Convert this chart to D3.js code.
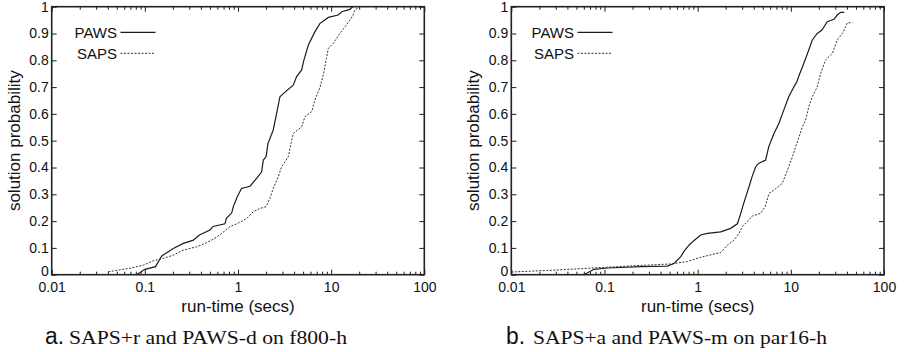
<!DOCTYPE html>
<html>
<head>
<meta charset="utf-8">
<script src="https://cdn.jsdelivr.net/npm/d3@7"></script>
<style>
  html, body { margin: 0; padding: 0; background: #fff; }
  svg { display: block; }
  .tick text { font-family: "Liberation Sans", Arial, sans-serif; font-size: 14px; fill: #111; }
</style>
</head>
<body>
<svg id="chart" width="904" height="352"></svg>
<script>
// Axis tick values and labels
const xTicks = [0.01, 0.1, 1, 10, 100];
const xTickLabels = ["0.01", "0.1", "1", "10", "100"];
const yTicks = [0, 0.1, 0.2, 0.3, 0.4, 0.5, 0.6, 0.7, 0.8, 0.9, 1];
const yTickLabels = ["0", "0.1", "0.2", "0.3", "0.4", "0.5", "0.6", "0.7", "0.8", "0.9", "1"];
const seriesNames = ["PAWS", "SAPS"];

// Panel a: run-time distributions on f800-h  [seconds, solution probability]
const pawsA = [
  [0.0817, 0], [0.1, 0.02], [0.13, 0.03], [0.152, 0.07], [0.202, 0.098], [0.259, 0.117],
  [0.332, 0.129], [0.385, 0.148], [0.5, 0.167], [0.54, 0.18], [0.724, 0.19], [0.75, 0.21],
  [0.855, 0.23], [0.89, 0.254], [0.98, 0.29], [1.09, 0.322], [1.346, 0.33], [1.59, 0.36],
  [1.795, 0.384], [1.87, 0.428], [2.0, 0.44], [2.1, 0.49], [2.39, 0.54], [2.58, 0.596],
  [2.82, 0.664], [3.0, 0.673], [3.93, 0.708], [4.26, 0.739], [4.82, 0.764], [5.1, 0.801],
  [5.69, 0.857], [6.7, 0.907], [7.6, 0.938], [9.33, 0.96], [11.9, 0.969], [13, 0.981],
  [15.9, 0.99], [17, 1.0]
];
const sapsA = [
  [0.0405, 0.011], [0.069, 0.024], [0.097, 0.036], [0.123, 0.052], [0.158, 0.061],
  [0.202, 0.073], [0.259, 0.092], [0.36, 0.104], [0.443, 0.117], [0.54, 0.132],
  [0.668, 0.154], [0.82, 0.179], [0.97, 0.19], [1.24, 0.21], [1.46, 0.235], [1.72, 0.247],
  [2.0, 0.254], [2.2, 0.285], [2.39, 0.322], [2.71, 0.366], [2.94, 0.403], [3.47, 0.44],
  [3.77, 0.502], [3.93, 0.527], [4.82, 0.552], [5.24, 0.59], [6.18, 0.608], [6.7, 0.652],
  [7.6, 0.70], [8.3, 0.751], [8.9, 0.807], [9.33, 0.845], [10.5, 0.863], [12.4, 0.90],
  [14.1, 0.925], [15.9, 0.95], [17.2, 0.969], [18, 0.988], [20.4, 1.0]
];

// Panel b: run-time distributions on par16-h
const pawsB = [
  [0.0603, 0], [0.077, 0.02], [0.107, 0.025], [0.244, 0.03], [0.472, 0.032], [0.557, 0.042],
  [0.658, 0.067], [0.71, 0.086], [0.807, 0.11], [0.91, 0.127], [1.077, 0.148], [1.27, 0.154],
  [1.77, 0.16], [2.26, 0.173], [2.67, 0.19], [2.9, 0.229], [3.12, 0.266], [3.56, 0.328],
  [3.84, 0.366], [4.2, 0.403], [4.5, 0.415], [5.37, 0.428], [5.8, 0.478], [6.6, 0.527],
  [7.46, 0.565], [8.4, 0.614], [9.5, 0.664], [10.8, 0.701], [11.6, 0.72], [12.3, 0.745],
  [13.8, 0.789], [14.9, 0.82], [17.0, 0.876], [19.2, 0.90], [21.6, 0.913], [24.6, 0.944],
  [29.0, 0.953], [31.5, 0.969], [34.3, 0.979], [37.5, 0.979]
];
const sapsB = [
  [0.01, 0.01], [0.0287, 0.017], [0.084, 0.026], [0.225, 0.034], [0.51, 0.04], [0.775, 0.049],
  [1.077, 0.065], [1.5, 0.077], [1.77, 0.083], [2.08, 0.11], [2.45, 0.129], [2.78, 0.154],
  [3.0, 0.179], [3.4, 0.198], [3.86, 0.219], [4.74, 0.229], [5.3, 0.254], [5.83, 0.303],
  [6.6, 0.316], [8.1, 0.341], [9.2, 0.39], [10.4, 0.44], [11.6, 0.49], [13.3, 0.552],
  [14.4, 0.577], [15.6, 0.627], [17.0, 0.664], [19.2, 0.701], [20.9, 0.751], [23.6, 0.801],
  [27.9, 0.826], [31.5, 0.876], [35.7, 0.90], [38.8, 0.925], [40.3, 0.94], [45.7, 0.94]
];

const svg = d3.select("#chart");
const sans = '"Liberation Sans", Arial, Helvetica, sans-serif';
const serif = '"Liberation Serif", "Times New Roman", serif';
const ink = "#1c1c1c";

const panels = [
  { left: 51.7, right: 424.3, series: [pawsA, sapsA], tag: "a.",
    caption: "SAPS+r and PAWS-d on f800-h", tagX: 45, capX: 69, capW: 278,
    yTitleX: 20, legendX: 117 },
  { left: 511.3, right: 884, series: [pawsB, sapsB], tag: "b.",
    caption: "SAPS+a and PAWS-m on par16-h", tagX: 506, capX: 533, capW: 294,
    yTitleX: 479, legendX: 574 }
];
const plotTop = 6.7, plotBottom = 274.7;

// minor tick positions on the log axis (2..9 of each decade)
function minorTicks() {
  const out = [];
  for (let e = -2; e < 2; e++) for (let k = 2; k <= 9; k++) out.push(k * Math.pow(10, e));
  return out;
}

panels.forEach(p => {
  const x = d3.scaleLog().domain([0.01, 100]).range([p.left, p.right]);
  const y = d3.scaleLinear().domain([0, 1]).range([plotBottom, plotTop]);
  const g = svg.append("g");

  // minor ticks, bottom and top
  const minors = minorTicks();
  g.append("g").attr("transform", `translate(0,${plotBottom})`)
    .call(d3.axisBottom(x).tickValues(minors).tickSize(-3).tickFormat(""))
    .call(a => a.select(".domain").remove())
    .selectAll("line").attr("stroke", ink);
  g.append("g").attr("transform", `translate(0,${plotTop})`)
    .call(d3.axisTop(x).tickValues(minors).tickSize(-3).tickFormat(""))
    .call(a => a.select(".domain").remove())
    .selectAll("line").attr("stroke", ink);

  // major x ticks with labels
  g.append("g").attr("transform", `translate(0,${plotBottom})`)
    .call(d3.axisBottom(x).tickValues(xTicks).tickSize(-5).tickPadding(7)
      .tickFormat((d, i) => xTickLabels[i]))
    .call(a => a.select(".domain").remove())
    .call(a => a.selectAll("line").attr("stroke", ink));
  g.append("g").attr("transform", `translate(0,${plotTop})`)
    .call(d3.axisTop(x).tickValues(xTicks).tickSize(-5).tickFormat(""))
    .call(a => a.select(".domain").remove())
    .selectAll("line").attr("stroke", ink);

  // y ticks, left with labels and mirrored on the right
  g.append("g").attr("transform", `translate(${p.left},0)`)
    .call(d3.axisLeft(y).tickValues(yTicks).tickSize(-5).tickPadding(3)
      .tickFormat((d, i) => yTickLabels[i]))
    .call(a => a.select(".domain").remove())
    .call(a => a.selectAll("line").attr("stroke", ink))
    // lift the bottom label so it clears the x labels
    .call(a => a.selectAll(".tick text").filter(d => d === 0).attr("dy", "0.06em"));
  g.append("g").attr("transform", `translate(${p.right},0)`)
    .call(d3.axisRight(y).tickValues(yTicks).tickSize(-5).tickFormat(""))
    .call(a => a.select(".domain").remove())
    .selectAll("line").attr("stroke", ink);

  // plot frame
  g.append("rect")
    .attr("x", p.left).attr("y", plotTop)
    .attr("width", p.right - p.left).attr("height", plotBottom - plotTop)
    .attr("fill", "none").attr("stroke", "#222").attr("stroke-width", 1.6);

  // curves
  const line = d3.line().x(d => x(d[0])).y(d => y(d[1]));
  g.append("path").datum(p.series[0])
    .attr("d", line).attr("fill", "none")
    .attr("stroke", ink).attr("stroke-width", 1.2);
  g.append("path").datum(p.series[1])
    .attr("d", line).attr("fill", "none")
    .attr("stroke", "#333").attr("stroke-width", 1)
    .attr("stroke-dasharray", "2,1.5");

  // legend
  const ly = [32.3, 53.3];
  seriesNames.forEach((name, i) => {
    g.append("text").attr("x", p.legendX).attr("y", ly[i]).attr("dy", "0.36em")
      .attr("text-anchor", "end").attr("font-family", sans).attr("font-size", 15)
      .attr("fill", "#111").text(name);
    g.append("line").attr("x1", p.legendX + 3.5).attr("x2", p.legendX + 38.5)
      .attr("y1", ly[i]).attr("y2", ly[i])
      .attr("stroke", i === 0 ? ink : "#333").attr("stroke-width", i === 0 ? 1.2 : 1)
      .attr("stroke-dasharray", i === 0 ? null : "2,1.5");
  });

  // axis titles
  g.append("text").attr("x", (p.left + p.right) / 2).attr("y", 312)
    .attr("text-anchor", "middle").attr("font-family", sans).attr("font-size", 17)
    .attr("fill", "#111").text("run-time (secs)");
  g.append("text")
    .attr("transform", `translate(${p.yTitleX},${(plotTop + plotBottom) / 2}) rotate(-90)`)
    .attr("text-anchor", "middle").attr("font-family", sans).attr("font-size", 17)
    .attr("fill", "#111").text("solution probability");

  // caption
  g.append("text").attr("x", p.tagX).attr("y", 344)
    .attr("font-family", sans).attr("font-size", 23).attr("fill", "#111")
    .attr("textLength", 19).attr("lengthAdjust", "spacingAndGlyphs").text(p.tag);
  g.append("text").attr("x", p.capX).attr("y", 344)
    .attr("font-family", serif).attr("font-size", 18).attr("fill", "#111")
    .attr("textLength", p.capW).attr("lengthAdjust", "spacingAndGlyphs").text(p.caption);
});
</script>
</body>
</html>
